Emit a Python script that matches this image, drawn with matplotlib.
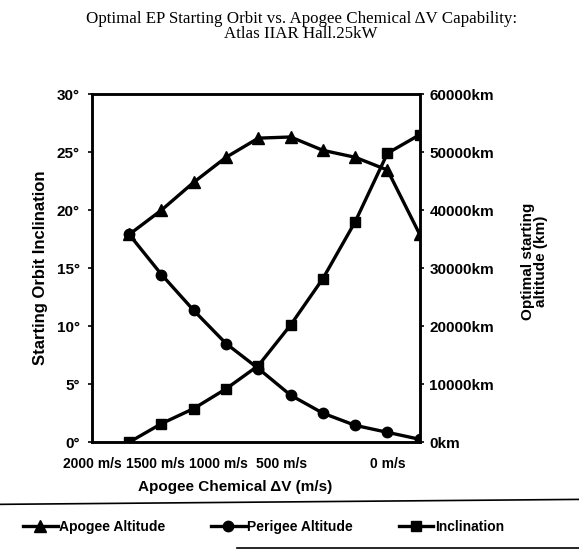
import matplotlib
matplotlib.use("Agg")
import matplotlib.pyplot as plt
from matplotlib.lines import Line2D

# apogee chemical dV (m/s), from 1800 down to 0
dv = [1800, 1600, 1400, 1200, 1000, 800, 600, 400, 200, 0]

# altitudes in km (right axis)
apogee_km = [35800, 40000, 44800, 49100, 52400, 52600, 50300, 49100, 46900, 35800]
perigee_km = [35800, 28900, 22700, 17000, 12700, 8100, 5000, 2900, 1700, 500]

# starting inclination in degrees (left axis)
inclination = [0.0, 1.6, 2.9, 4.6, 6.6, 10.1, 14.1, 19.0, 24.9, 26.5]

xtick_pos = [2030, 1640, 1245, 855, 200]
xtick_labels = ["2000 m/s", "1500 m/s", "1000 m/s", "500 m/s", "0 m/s"]
ytick_left = [0, 5, 10, 15, 20, 25, 30]
ytick_right = [0, 10000, 20000, 30000, 40000, 50000, 60000]

sans = "Liberation Sans"

fig = plt.figure(figsize=(5.79, 5.5), dpi=100)
ax = fig.add_axes([0.159, 0.196, 0.566, 0.633])
ax2 = ax.twinx()

lw = 2.4
ms = 7.5
l_inc, = ax.plot(dv, inclination, color="black", lw=lw, marker="s", ms=ms)
l_apo, = ax2.plot(dv, apogee_km, color="black", lw=lw, marker="^", ms=ms + 1)
l_per, = ax2.plot(dv, perigee_km, color="black", lw=lw, marker="o", ms=ms)

ax.set_xlim(2000, 0)
ax.set_ylim(0, 30)
ax2.set_ylim(0, 60000)

ax.set_xticks(xtick_pos)
ax.set_xticklabels(xtick_labels, fontfamily=sans, fontweight="bold", fontsize=10)
ax.tick_params(axis="x", length=0, pad=11)

ax.set_yticks(ytick_left)
ax.set_yticklabels([f"{v}°" for v in ytick_left], fontfamily=sans, fontweight="bold", fontsize=11)
ax.tick_params(axis="y", length=3, width=1.2, pad=6)

ax2.set_yticks(ytick_right)
ax2.set_yticklabels([f"{v}km" for v in ytick_right], fontfamily=sans, fontweight="bold", fontsize=11)
ax2.tick_params(axis="y", length=3, width=1.2, pad=4)

for a in (ax, ax2):
    for s in a.spines.values():
        s.set_linewidth(1.8)

ax.set_ylabel("Starting Orbit Inclination", fontfamily=sans, fontweight="bold", fontsize=12)
ax.yaxis.set_label_coords(-0.135, 0.5)
ax2.set_ylabel("Optimal starting\naltitude (km)", fontfamily=sans, fontweight="bold",
               fontsize=11, linespacing=0.9)
ax2.yaxis.set_label_coords(1.31, 0.52)
ax.set_xlabel("Apogee Chemical ΔV (m/s)", fontfamily=sans, fontweight="bold", fontsize=11)
ax.xaxis.set_label_coords(0.436, -0.11)

fig.text(0.52, 0.98, "Optimal EP Starting Orbit vs. Apogee Chemical ΔV Capability:\nAtlas IIAR Hall.25kW",
         ha="center", va="top", fontfamily="Liberation Serif", fontsize=12.2, linespacing=0.95)

# legend between two rules
fig.add_artist(Line2D([0, 1], [0.083, 0.092], color="black", lw=1.2))
fig.add_artist(Line2D([0.41, 1], [0.003, 0.003], color="black", lw=1.2))
fig.legend([l_apo, l_per, l_inc], ["Apogee Altitude", "Perigee Altitude", "Inclination"],
           loc="center", bbox_to_anchor=(0.455, 0.042), ncol=3, frameon=False,
           handlelength=2.5, handletextpad=0.1, columnspacing=3.3,
           prop={"family": sans, "weight": "bold", "size": 10})

fig.savefig("out.png", dpi=100)
